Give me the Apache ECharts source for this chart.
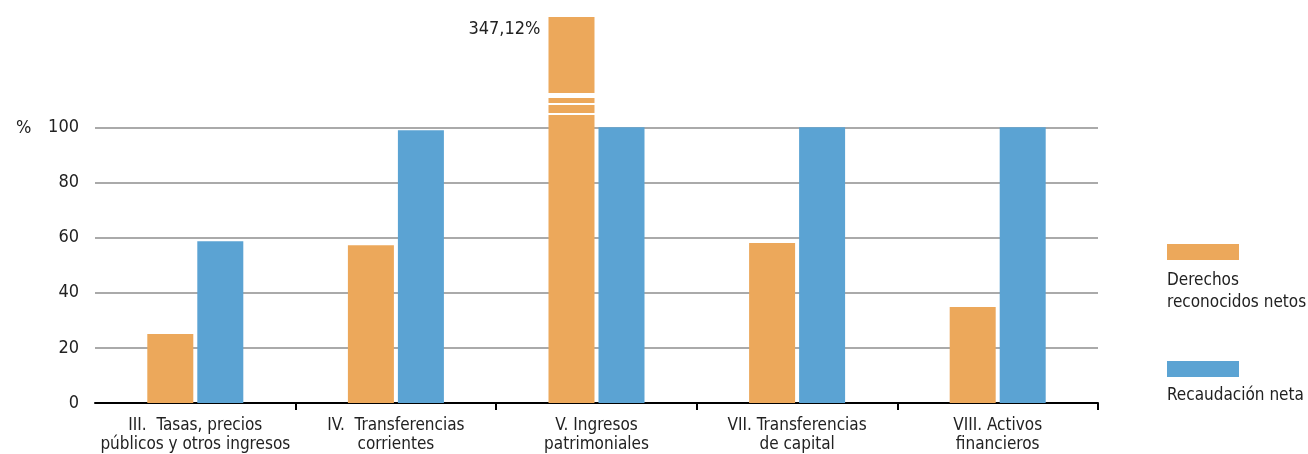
<!DOCTYPE html>
<html>
<head>
<meta charset="utf-8">
<script src="https://cdn.jsdelivr.net/npm/echarts@6/dist/echarts.min.js"></script>
<style>
  html, body { margin: 0; padding: 0; background: #fff; }
  #chart { width: 1308px; height: 454px; }
</style>
</head>
<body>
<div id="chart"></div>
<script>
// datos
const categories = [
    'III.  Tasas, precios\npúblicos y otros ingresos',
    'IV.  Transferencias\ncorrientes',
    'V. Ingresos\npatrimoniales',
    'VII. Transferencias\nde capital',
    'VIII. Activos\nfinancieros'
]
const derechos = [25.0, 57.2, 347.12, 58.0, 34.8]
const recaudacion = [58.7, 98.9, 100, 100, 100]
const seriesNames = ['Derechos\nreconocidos netos', 'Recaudación neta']
const yMax = 100      // ultima etiqueta del eje
const yCap = 140      // la barra que se sale se corta aqui
const breaks = [111.8, 108.5, 105.0]  // cortes blancos de la barra rota

const FONT = '"Liberation Sans Narrow", "DejaVu Sans Condensed", "Noto Sans", sans-serif'
const ORANGE = '#eca85b'
const BLUE = '#5ba3d3'
const TEXT = '#222'

function fmt(v){
    return v.toFixed(2).replace('.', ',') + '%'
}

let orangeData = derechos.map(v => {
    if (v <= yCap) return v
    return {
        value: yCap,
        label: {
            show: true,
            position: [-8, 12],
            align: 'right',
            verticalAlign: 'middle',
            formatter: fmt(v),
            fontFamily: FONT,
            fontSize: 18,
            color: TEXT
        }
    }
})

// lineas de rejilla solo hasta 100
let gridColors = []
for (let v = 0; v <= yCap; v += 20)
    gridColors.push(v <= yMax ? '#aaaaaa' : 'rgba(0,0,0,0)')

const chart = echarts.init(document.getElementById('chart'))
const option = {
    animation: false,
    title: {
        text: '%',
        left: 11,
        top: 114,
        textStyle: { fontFamily: FONT, fontSize: 18, fontWeight: 'normal', color: TEXT }
    },
    grid: { left: 95, right: 210, top: 17, bottom: 51, containLabel: false },
    legend: {
        orient: 'vertical',
        left: 1167,
        top: 244,
        padding: 0,
        itemWidth: 72,
        itemHeight: 16,
        itemGap: 101,
        icon: 'rect',
        formatter: () => '',
        data: seriesNames,
        selectedMode: false
    },
    graphic: [
        {
            type: 'text', left: 1167, top: 270,
            style: { text: 'Derechos\nreconocidos netos', font: '17px ' + FONT, lineHeight: 22, fill: TEXT }
        },
        {
            type: 'text', left: 1167, top: 387,
            style: { text: 'Recaudación neta', font: '17px ' + FONT, fill: TEXT }
        }
    ],
    xAxis: {
        type: 'category',
        data: categories,
        axisLine: { lineStyle: { color: '#000', width: 2 } },
        axisTick: {
            show: true,
            length: 7,
            interval: (i) => i > 0,
            lineStyle: { color: '#000', width: 2 }
        },
        axisLabel: {
            margin: 13,
            interval: 0,
            fontFamily: FONT,
            fontSize: 17,
            lineHeight: 19,
            color: TEXT
        }
    },
    yAxis: {
        type: 'value',
        min: 0,
        max: yCap,
        interval: 20,
        axisLine: { show: false },
        axisTick: { show: false },
        axisLabel: {
            margin: 16,
            fontFamily: FONT,
            fontSize: 18,
            color: TEXT,
            formatter: v => (v <= yMax ? v : '')
        },
        splitLine: { lineStyle: { color: gridColors, width: 2 } }
    },
    series: [
        {
            name: seriesNames[0],
            type: 'bar',
            data: orangeData,
            barWidth: 46,
            barGap: '8.7%',
            itemStyle: { color: ORANGE },
            markLine: {
                silent: true,
                z: 10,
                symbol: 'none',
                label: { show: false },
                data: breaks.map((b, i) => ({
                    yAxis: b,
                    lineStyle: { color: '#fff', type: 'solid', width: i == 0 ? 5 : 2 }
                }))
            }
        },
        {
            name: seriesNames[1],
            type: 'bar',
            data: recaudacion,
            barWidth: 46,
            itemStyle: { color: BLUE }
        }
    ]
}
chart.setOption(option)
</script>
</body>
</html>
